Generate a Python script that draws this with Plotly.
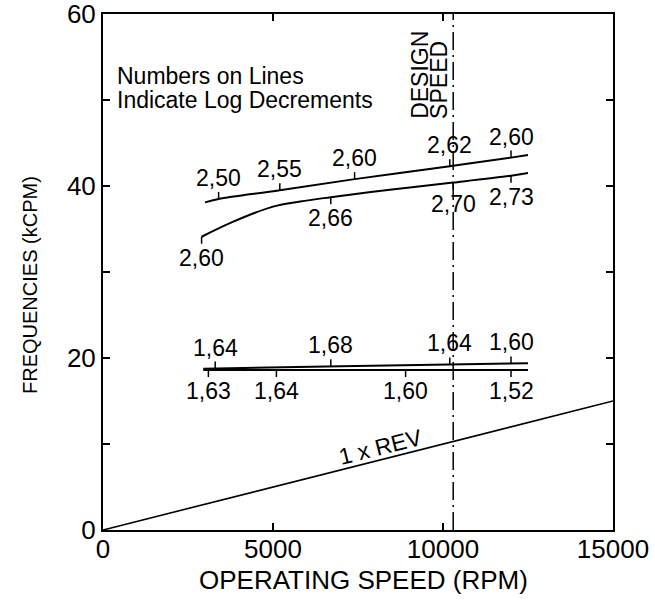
import numpy as np
import plotly.graph_objects as go

# Upper mode pair near 40 kCPM
upper_a_rpm = [3000, 3400, 5200, 7400, 10200, 12000, 12500]
upper_a_kcpm = [38.1, 38.5, 39.5, 40.8, 42.3, 43.3, 43.6]
upper_a_tick_rpm = [3400, 5200, 7400, 10200, 12000]
upper_a_tick_text = ["2,50", "2,55", "2,60", "2,62", "2,60"]

upper_b_rpm = [2900, 3800, 5000, 5800, 6700, 8500, 10300, 12000, 12500]
upper_b_kcpm = [34.1, 35.8, 37.6, 38.2, 38.7, 39.6, 40.4, 41.2, 41.5]
upper_b_tick_rpm = [2900, 6700, 10300, 12000]
upper_b_tick_text = ["2,60", "2,66", "2,70", "2,73"]

# Lower mode pair near 19 kCPM
lower_a_rpm = [2950, 7000, 12500]
lower_a_kcpm = [18.75, 19.05, 19.4]
lower_a_tick_rpm = [3300, 6700, 10200, 12000]
lower_a_tick_text = ["1,64", "1,68", "1,64", "1,60"]

lower_b_rpm = [2950, 7000, 12500]
lower_b_kcpm = [18.6, 18.6, 18.6]
lower_b_tick_rpm = [3100, 5100, 8900, 12000]
lower_b_tick_text = ["1,63", "1,64", "1,60", "1,52"]

# Synchronous excitation line and design speed
rev_rpm = [0, 15000]
rev_kcpm = [0, 15]
design_speed_rpm = 10300

x_tick_vals = [0, 5000, 10000, 15000]
x_tick_text = ["0", "5000", "10000", "15000"]
y_tick_vals = [0, 20, 40, 60]
y_tick_text = ["0", "20", "40", "60"]

FONT = "Liberation Sans, Arial, Helvetica, sans-serif"
LABEL_SIZE = 23

fig = go.Figure()

for xs, ys in [(upper_a_rpm, upper_a_kcpm), (upper_b_rpm, upper_b_kcpm),
               (lower_a_rpm, lower_a_kcpm), (lower_b_rpm, lower_b_kcpm)]:
    fig.add_trace(go.Scatter(x=xs, y=ys, mode="lines",
                             line=dict(color="black", width=2, shape="spline", smoothing=1.0),
                             hoverinfo="skip", showlegend=False))

fig.add_trace(go.Scatter(x=rev_rpm, y=rev_kcpm, mode="lines",
                         line=dict(color="black", width=1.6),
                         hoverinfo="skip", showlegend=False))

shapes = []
annotations = []


def mark_curve(xs, ys, tick_x, tick_text, above):
    """Short tick on the curve plus its log-decrement label."""
    for tx, txt in zip(tick_x, tick_text):
        ty = float(np.interp(tx, xs, ys))
        shapes.append(dict(type="line", xref="x", yref="y", x0=tx, x1=tx,
                           ysizemode="pixel", yanchor=ty,
                           y0=0, y1=7 if above else -7,
                           line=dict(color="black", width=1.5)))
        annotations.append(dict(x=tx, y=ty, text=txt, showarrow=False,
                                yshift=21 if above else -21,
                                font=dict(size=LABEL_SIZE, color="black", family=FONT)))


mark_curve(upper_a_rpm, upper_a_kcpm, upper_a_tick_rpm, upper_a_tick_text, True)
mark_curve(upper_b_rpm, upper_b_kcpm, upper_b_tick_rpm, upper_b_tick_text, False)
mark_curve(lower_a_rpm, lower_a_kcpm, lower_a_tick_rpm, lower_a_tick_text, True)
mark_curve(lower_b_rpm, lower_b_kcpm, lower_b_tick_rpm, lower_b_tick_text, False)

# Design speed marker
shapes.append(dict(type="line", xref="x", yref="y", x0=design_speed_rpm, x1=design_speed_rpm,
                   y0=0, y1=60, line=dict(color="black", width=1.5, dash="18px,5px,2px,5px")))

annotations += [
    dict(x=380, y=52.8, xanchor="left", yanchor="middle", text="Numbers on Lines",
         showarrow=False, borderpad=0, font=dict(size=LABEL_SIZE, color="black", family=FONT)),
    dict(x=380, y=50.0, xanchor="left", yanchor="middle", text="Indicate Log Decrements",
         showarrow=False, borderpad=0, font=dict(size=LABEL_SIZE, color="black", family=FONT)),
    dict(x=9300, y=47.6, xanchor="center", yanchor="bottom", text="DESIGN", textangle=-90,
         showarrow=False, font=dict(size=23, color="black", family=FONT)),
    dict(x=9860, y=47.6, xanchor="center", yanchor="bottom", text="SPEED", textangle=-90,
         showarrow=False, font=dict(size=23, color="black", family=FONT)),
    dict(x=8150, y=9.65, text="1 x REV", textangle=-14, showarrow=False,
         font=dict(size=LABEL_SIZE, color="black", family=FONT)),
    # Axis titles
    dict(xref="paper", yref="paper", x=0.51, y=-0.097, xanchor="center", yanchor="middle",
         text="OPERATING SPEED (RPM)", showarrow=False, borderpad=0,
         font=dict(size=26, color="black", family=FONT)),
    dict(xref="paper", yref="y", x=-0.143, y=28.5, xanchor="center", yanchor="middle",
         text="FREQUENCIES (kCPM)", textangle=-90, showarrow=False,
         font=dict(size=20, color="black", family=FONT)),
]

fig.update_layout(
    width=655, height=604,
    margin=dict(l=103, r=42, t=14, b=74),
    paper_bgcolor="white", plot_bgcolor="white",
    font=dict(family=FONT, color="black"),
    shapes=shapes, annotations=annotations,
    xaxis=dict(range=[0, 15000], tickvals=x_tick_vals, ticktext=x_tick_text,
               ticks="inside", ticklen=7, tickwidth=1.5, tickcolor="black",
               showline=True, linecolor="black", linewidth=2, mirror="ticks",
               showgrid=False, zeroline=False, automargin=False,
               ticklabelstandoff=-5,
               ticklabeloverflow="allow", tickfont=dict(size=26)),
    yaxis=dict(range=[0, 60], tickvals=y_tick_vals, ticktext=y_tick_text,
               ticks="inside", ticklen=7, tickwidth=1.5, tickcolor="black",
               minor=dict(tickvals=[10, 30, 50], ticks="inside", ticklen=7, tickwidth=1.5,
                          tickcolor="black"),
               showline=True, linecolor="black", linewidth=2, mirror="ticks",
               showgrid=False, zeroline=False, automargin=False,
               ticklabeloverflow="allow", tickfont=dict(size=26)),
)

fig.write_html("out.html")
